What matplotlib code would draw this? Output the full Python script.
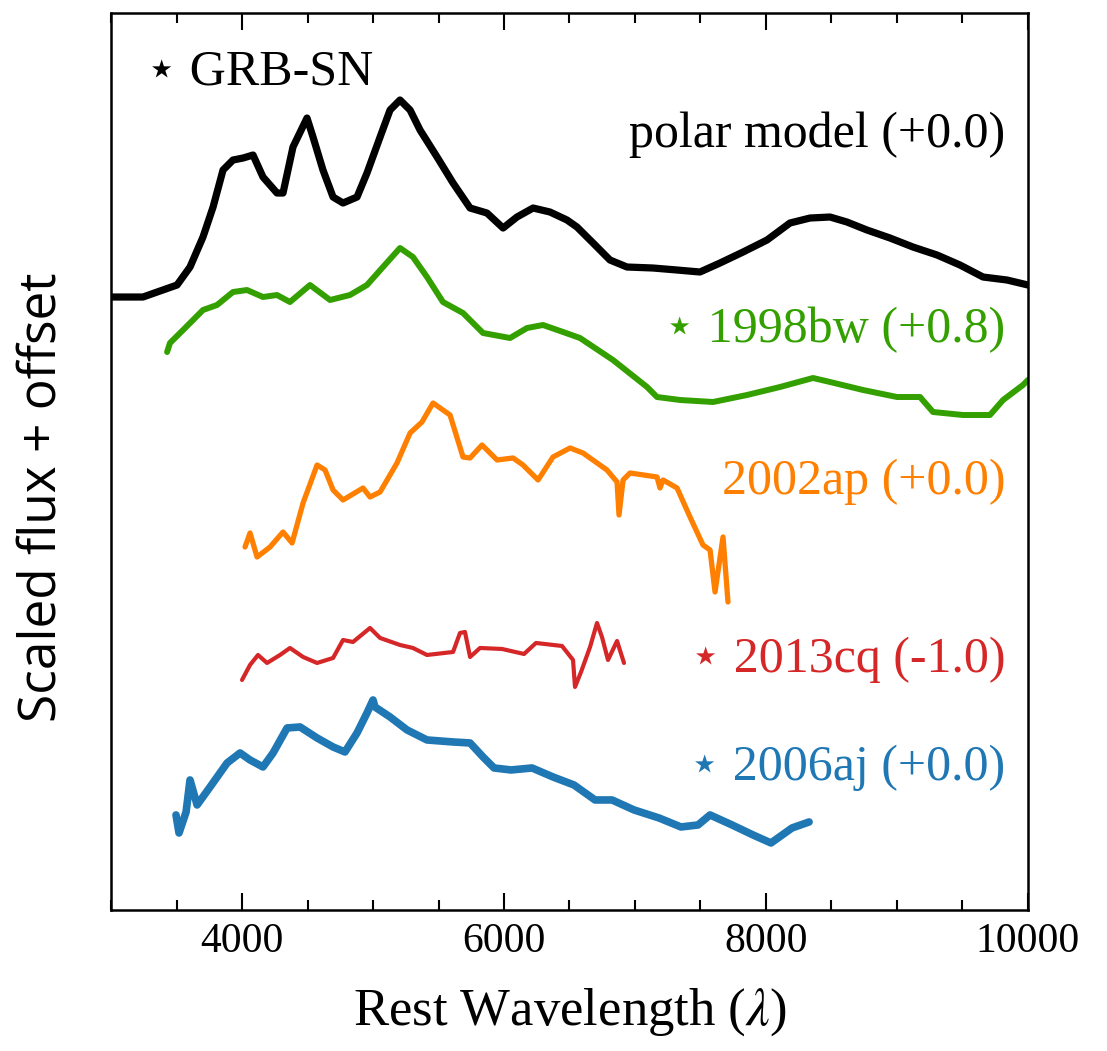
import matplotlib
matplotlib.use("Agg")
import matplotlib.pyplot as plt
from matplotlib.ticker import MultipleLocator

# rest wavelength (A) and scaled flux + offset
polar_wave = [3000, 3244, 3504, 3603, 3702, 3779, 3855, 3931, 4008, 4084, 4160, 4267,
              4313, 4389, 4496, 4542, 4618, 4695, 4771, 4878, 4954, 5054, 5130, 5206,
              5283, 5359, 5489, 5611, 5741, 5870, 5993, 6099, 6222, 6351, 6481, 6557,
              6680, 6809, 6939, 7138, 7321, 7496, 7649, 7825, 8008, 8183, 8336, 8489,
              8618, 8771, 8947, 9122, 9306, 9481, 9657, 9840, 10000]
polar_flux = [6.13, 6.13, 6.25, 6.43, 6.73, 7.03, 7.40, 7.50, 7.52, 7.55, 7.33, 7.17,
              7.17, 7.63, 7.92, 7.73, 7.40, 7.13, 7.07, 7.13, 7.37, 7.73, 8.00, 8.10,
              8.00, 7.80, 7.53, 7.27, 7.02, 6.97, 6.82, 6.93, 7.02, 6.98, 6.90, 6.83,
              6.67, 6.50, 6.43, 6.42, 6.40, 6.38, 6.47, 6.58, 6.70, 6.87, 6.92, 6.93,
              6.88, 6.80, 6.72, 6.63, 6.55, 6.45, 6.33, 6.30, 6.25]

bw98_wave = [3428, 3450, 3550, 3702, 3809, 3931, 4038, 4160, 4267, 4366, 4519, 4672,
             4824, 4954, 5076, 5206, 5305, 5412, 5534, 5687, 5840, 6046, 6176, 6298,
             6451, 6580, 6832, 7092, 7168, 7344, 7596, 7855, 8107, 8359, 8489, 8741,
             9000, 9176, 9275, 9504, 9710, 9810, 9962, 10000]
bw98_flux = [5.58, 5.67, 5.80, 6.00, 6.05, 6.18, 6.20, 6.13, 6.15, 6.08, 6.25, 6.10,
             6.15, 6.25, 6.43, 6.62, 6.53, 6.33, 6.08, 5.97, 5.77, 5.72, 5.82, 5.85,
             5.78, 5.72, 5.50, 5.23, 5.13, 5.10, 5.08, 5.15, 5.23, 5.32, 5.28, 5.20,
             5.13, 5.13, 4.98, 4.95, 4.95, 5.10, 5.25, 5.30]

ap02_wave = [4023, 4061, 4115, 4214, 4313, 4382, 4466, 4573, 4634, 4695, 4771, 4924,
             4977, 5054, 5183, 5283, 5374, 5458, 5588, 5687, 5741, 5832, 5947, 6069,
             6145, 6260, 6374, 6504, 6603, 6786, 6863, 6878, 6909, 6962, 7168, 7191,
             7214, 7321, 7420, 7519, 7573, 7611, 7672, 7710]
ap02_flux = [3.63, 3.77, 3.53, 3.63, 3.78, 3.67, 4.07, 4.45, 4.40, 4.20, 4.10, 4.22,
             4.13, 4.18, 4.47, 4.77, 4.88, 5.07, 4.95, 4.53, 4.52, 4.65, 4.50, 4.52,
             4.45, 4.30, 4.53, 4.62, 4.57, 4.40, 4.28, 3.95, 4.30, 4.37, 4.33, 4.22,
             4.30, 4.22, 3.93, 3.65, 3.60, 3.18, 3.73, 3.08]

cq13_wave = [4000, 4061, 4122, 4191, 4290, 4366, 4466, 4573, 4695, 4771, 4847, 4977,
             5054, 5206, 5305, 5412, 5611, 5664, 5702, 5741, 5817, 5985, 6153, 6244,
             6443, 6527, 6542, 6588, 6657, 6710, 6748, 6794, 6863, 6916]
cq13_flux = [2.30, 2.45, 2.55, 2.47, 2.55, 2.62, 2.53, 2.47, 2.52, 2.70, 2.68, 2.82,
             2.72, 2.65, 2.62, 2.55, 2.58, 2.77, 2.78, 2.53, 2.62, 2.61, 2.56, 2.67,
             2.64, 2.50, 2.23, 2.38, 2.63, 2.87, 2.73, 2.50, 2.69, 2.47]

aj06_wave = [3496, 3519, 3573, 3603, 3657, 3756, 3886, 3985, 4061, 4160, 4237, 4344,
             4443, 4573, 4695, 4786, 4878, 4954, 5000, 5015, 5130, 5260, 5412, 5611,
             5741, 5840, 5924, 6054, 6214, 6374, 6534, 6695, 6825, 6993, 7183, 7351,
             7481, 7573, 7741, 7901, 8038, 8199, 8329]
aj06_flux = [0.95, 0.77, 0.98, 1.30, 1.05, 1.23, 1.47, 1.57, 1.50, 1.43, 1.57, 1.82,
             1.83, 1.72, 1.63, 1.58, 1.77, 1.97, 2.10, 2.03, 1.93, 1.80, 1.70, 1.68,
             1.67, 1.53, 1.42, 1.40, 1.42, 1.33, 1.25, 1.10, 1.10, 1.00, 0.92, 0.83,
             0.85, 0.95, 0.85, 0.75, 0.67, 0.82, 0.88]

serif = ["Liberation Serif", "DejaVu Sans"]
plt.rcParams["mathtext.fontset"] = "stix"

fig = plt.figure(figsize=(11.07, 10.51), dpi=100)
ax = fig.add_axes([0.1003, 0.1342, 0.8283, 0.8534])

line_kw = dict(solid_joinstyle="round", solid_capstyle="round")
ax.plot(polar_wave, polar_flux, color="black", lw=5.2, **line_kw)
ax.plot(bw98_wave, bw98_flux, color="#33a000", lw=4.3, **line_kw)
ax.plot(ap02_wave, ap02_flux, color="#ff8000", lw=3.8, **line_kw)
ax.plot(cq13_wave, cq13_flux, color="#d62728", lw=3.0, **line_kw)
ax.plot(aj06_wave, aj06_flux, color="#1f77b4", lw=5.5, **line_kw)

tsize = 36
ax.text(3270, 8.38, "\u22c6 GRB-SN", family=serif, fontsize=tsize, va="center", ha="left")
ax.text(9830, 7.75, "polar model (+0.0)", family=serif, fontsize=tsize,
        va="center", ha="right", color="black")
ax.text(9830, 5.80, "\u22c6 1998bw (+0.8)", family=serif, fontsize=tsize,
        va="center", ha="right", color="#33a000")
ax.text(9830, 4.28, "2002ap (+0.0)", family=serif, fontsize=tsize,
        va="center", ha="right", color="#ff8000")
ax.text(9830, 2.50, "\u22c6 2013cq (-1.0)", family=serif, fontsize=tsize,
        va="center", ha="right", color="#d62728")
ax.text(9830, 1.42, "\u22c6 2006aj (+0.0)", family=serif, fontsize=tsize,
        va="center", ha="right", color="#1f77b4")

ax.set_xlim(3000, 10000)
ax.set_ylim(0, 8.97)
ax.xaxis.set_major_locator(MultipleLocator(2000))
ax.xaxis.set_minor_locator(MultipleLocator(500))
ax.tick_params(axis="x", which="both", direction="in", top=True, bottom=True,
               labelsize=30, pad=9, width=1.5)
ax.tick_params(axis="x", which="major", length=12)
ax.tick_params(axis="x", which="minor", length=7)
ax.set_yticks([])
for lab in ax.get_xticklabels():
    lab.set_family(serif)
for sp in ax.spines.values():
    sp.set_linewidth(1.8)

ax.set_xlabel("Rest Wavelength ($\\lambda$)", family=serif, fontsize=38, labelpad=18)
ax.set_ylabel("Scaled flux + offset", family="Open Sans", fontsize=37)
ax.yaxis.set_label_coords(-0.048, 0.46)

fig.savefig("out.png", dpi=100)
